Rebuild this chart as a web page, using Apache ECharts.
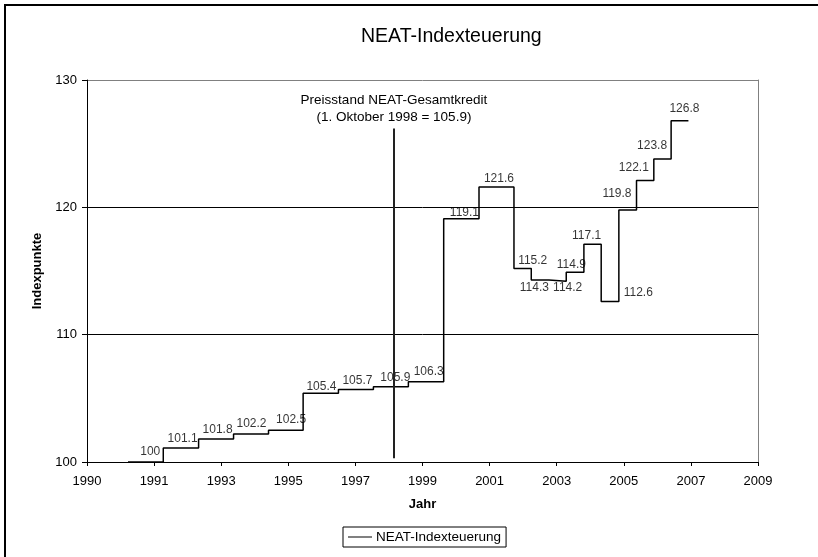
<!DOCTYPE html>
<html>
<head>
<meta charset="utf-8">
<title>NEAT-Indexteuerung</title>
<script src="https://cdn.jsdelivr.net/npm/echarts@6/dist/echarts.min.js"></script>
<style>
  html, body { margin: 0; padding: 0; background: #fff; overflow: hidden; }
  #chart { width: 818px; height: 557px; }
</style>
</head>
<body>
<div id="chart"></div>
<script>
// Stichtage der Indexwechsel (Jahr als Dezimalzahl); der letzte Wert schliesst die Treppe ab
const stepYears = [1991.16, 1992.16, 1993.16, 1994.15, 1995.14, 1996.12, 1997.12, 1998.11,
  1999.10, 2000.10, 2001.10, 2002.09, 2002.58, 2003.08, 2003.57, 2004.07, 2004.56,
  2005.06, 2005.56, 2006.05, 2006.54, 2007.03]
// Indexpunkte je Stufe
const indexValues = [100, 101.1, 101.8, 102.2, 102.5, 105.4, 105.7, 105.9, 106.3, 119.1,
  121.6, 115.2, 114.3, 114.2, 114.9, 117.1, 112.6, 119.8, 122.1, 123.8, 126.8]
// Achsenbeschriftung (Excel-Teilung 1.9 Jahre, abgeschnitten)
const xTickLabels = ['1990', '1991', '1993', '1995', '1997', '1999', '2001', '2003', '2005', '2007', '2009']
const yTicks = [100, 110, 120, 130]
// Markierung Preisstand
const priceBaseYear = 1998.69
const priceBaseRange = [100.3, 126.2]

const BASE_YEAR = 1990
const X_STEP = 1.9
const FONT = '"Liberation Sans", Arial, sans-serif'

// Lage der Beschriftungen relativ zum Stufenende [dx, dy] in Pixel
const labelOffsets = [[-3, -10], [-1, -9], [-1, -9], [-2, -10], [3, -10], [-2, -7], [-1, -9],
  [2, -9], [0, -10], [0, -6], [0, -8], [16, -8], [0, 8], [16, 7], [2, -8], [0, -9],
  [34, -9], [-5, -16], [-5, -13], [-4, -13], [11, -12]]

// Treppenlinie: Startpunkt jeder Stufe + Endpunkt
const lineData = indexValues.map((v, i) => [stepYears[i] - BASE_YEAR, v])
lineData.push([stepYears[stepYears.length - 1] - BASE_YEAR, indexValues[indexValues.length - 1]])

// Beschriftungen am Ende jeder Stufe
const labelData = indexValues.map((v, i) => ({
  value: [stepYears[i + 1] - BASE_YEAR, v],
  label: { offset: labelOffsets[i] }
}))

const chart = echarts.init(document.getElementById('chart'), null, { renderer: 'canvas' })

const option = {
  animation: false,
  backgroundColor: '#fff',
  textStyle: { fontFamily: FONT },
  title: {
    text: 'NEAT-Indexteuerung',
    left: 356,
    top: 22,
    textStyle: { fontFamily: FONT, fontSize: 19.5, fontWeight: 'normal', color: '#000' }
  },
  legend: {
    data: ['NEAT-Indexteuerung'],
    left: 343,
    top: 527,
    padding: [3, 5, 3, 5],
    icon: 'rect',
    itemWidth: 24,
    itemHeight: 1,
    itemGap: 4,
    itemStyle: { color: '#000' },
    borderColor: '#000',
    borderWidth: 1,
    borderRadius: 0,
    textStyle: { fontFamily: FONT, fontSize: 13.5, color: '#000', padding: [0, 0, 0, -1] }
  },
  grid: { left: 87, right: 60, top: 80, bottom: 95, containLabel: false },
  xAxis: {
    type: 'value',
    min: 0,
    max: (xTickLabels.length - 1) * X_STEP,
    interval: X_STEP,
    name: 'Jahr',
    nameLocation: 'middle',
    nameGap: 36,
    nameTextStyle: { fontFamily: FONT, fontSize: 13, fontWeight: 'bold', color: '#000' },
    axisLine: { show: true, onZero: false, lineStyle: { color: '#000', width: 1 } },
    axisTick: { show: true, inside: false, length: 4, lineStyle: { color: '#000' } },
    axisLabel: {
      margin: 13,
      fontFamily: FONT,
      fontSize: 13,
      color: '#000',
      formatter: v => xTickLabels[Math.round(v / X_STEP)] || ''
    },
    splitLine: { show: false }
  },
  yAxis: [{
    type: 'value',
    min: yTicks[0],
    max: yTicks[yTicks.length - 1],
    interval: 10,
    name: 'Indexpunkte',
    nameLocation: 'middle',
    nameGap: 36,
    nameTextStyle: { fontFamily: FONT, fontSize: 13, fontWeight: 'bold', color: '#000' },
    axisLine: { show: true, lineStyle: { color: '#000', width: 1 } },
    axisTick: { show: true, length: 5, lineStyle: { color: '#000' } },
    axisLabel: { margin: 10, fontFamily: FONT, fontSize: 13, color: '#000' },
    splitLine: { show: true, lineStyle: { color: ['#000', '#000', '#000', '#808080'], width: 1 } }
  }, {
    type: 'value',
    position: 'right',
    min: yTicks[0],
    max: yTicks[yTicks.length - 1],
    interval: 10,
    axisLine: { show: true, lineStyle: { color: '#808080', width: 1 } },
    axisTick: { show: false },
    axisLabel: { show: false },
    splitLine: { show: false }
  }],
  series: [
    {
      name: 'NEAT-Indexteuerung',
      type: 'line',
      step: 'end',
      data: lineData,
      symbol: 'none',
      showSymbol: false,
      lineStyle: { color: '#000', width: 1.5 },
      itemStyle: { color: '#000' },
      markLine: {
        silent: true,
        symbol: 'none',
        lineStyle: { color: '#222', width: 2, type: 'solid' },
        label: {
          show: true,
          position: 'end',
          distance: 3,
          formatter: 'Preisstand NEAT-Gesamtkredit\n(1. Oktober 1998 = 105.9)',
          fontFamily: FONT,
          fontSize: 13.5,
          lineHeight: 16.5,
          color: '#000',
          align: 'center'
        },
        data: [[
          { coord: [priceBaseYear - BASE_YEAR, priceBaseRange[0]] },
          { coord: [priceBaseYear - BASE_YEAR, priceBaseRange[1]] }
        ]]
      }
    },
    {
      name: 'labels',
      type: 'scatter',
      data: labelData,
      symbolSize: 0,
      silent: true,
      label: {
        show: true,
        position: 'left',
        distance: 0,
        formatter: p => String(p.value[1]),
        fontFamily: FONT,
        fontSize: 12,
        color: '#000'
      }
    }
  ],
  // Rahmen des Diagrammbereichs (nur oben und links sichtbar)
  graphic: [{
    type: 'line',
    shape: { x1: 4, y1: 5, x2: 818, y2: 5 },
    style: { stroke: '#000', lineWidth: 2 },
    silent: true
  }, {
    type: 'line',
    shape: { x1: 5, y1: 4, x2: 5, y2: 557 },
    style: { stroke: '#000', lineWidth: 2 },
    silent: true
  }]
}

chart.setOption(option)
</script>
</body>
</html>
